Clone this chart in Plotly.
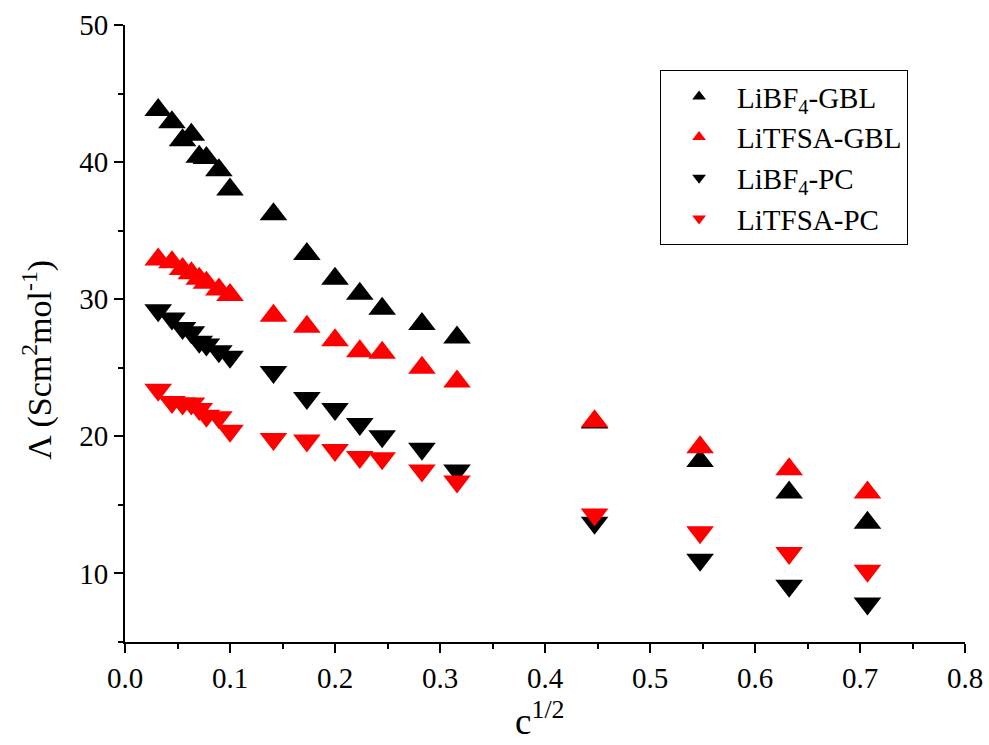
import plotly.graph_objects as go

x = [0.0316, 0.0447, 0.0548, 0.0632, 0.0707, 0.0775, 0.0894, 0.1,
     0.1414, 0.1732, 0.2, 0.2236, 0.2449, 0.2828, 0.3162,
     0.4472, 0.5477, 0.6325, 0.7071]

libf4_gbl = [43.8, 42.9, 41.6, 42.0, 40.4, 40.3, 39.4, 38.0,
             36.2, 33.3, 31.5, 30.4, 29.3, 28.2, 27.2,
             21.0, 18.2, 15.9, 13.7]
litfsa_gbl = [32.9, 32.7, 32.2, 31.9, 31.5, 31.2, 30.7, 30.3,
              28.8, 28.0, 27.0, 26.2, 26.1, 25.0, 24.0,
              21.1, 19.2, 17.6, 15.9]
libf4_pc = [29.2, 28.6, 27.9, 27.6, 26.9, 26.7, 26.2, 25.8,
            24.7, 22.8, 22.0, 20.9, 20.0, 19.1, 17.5,
            13.7, 11.0, 9.1, 7.8]
litfsa_pc = [23.4, 22.5, 22.4, 22.4, 22.0, 21.5, 21.4, 20.4,
             19.8, 19.7, 19.0, 18.5, 18.4, 17.5, 16.7,
             14.3, 13.0, 11.5, 10.2]

names = ["LiBF<sub>4</sub>-GBL", "LiTFSA-GBL", "LiBF<sub>4</sub>-PC", "LiTFSA-PC"]
series = [libf4_gbl, litfsa_gbl, libf4_pc, litfsa_pc]
colors = ["black", "red", "black", "red"]
symbols = ["triangle-up", "triangle-up", "triangle-down", "triangle-down"]

fig = go.Figure()
for n, s, c, sym in zip(names, series, colors, symbols):
    fig.add_trace(go.Scatter(x=x, y=s, mode="markers", name=n,
                             marker=dict(symbol=sym, size=24, color=c,
                                         line=dict(width=0))))

font = "Liberation Serif, Times New Roman, serif"
fig.update_layout(
    width=989, height=745,
    margin=dict(l=125, r=24, t=25, b=103, autoexpand=False),
    plot_bgcolor="white", paper_bgcolor="white",
    font=dict(family=font, color="black", size=30),
    showlegend=True,
    legend=dict(x=0.637, y=0.927, xanchor="left", yanchor="top",
                bordercolor="black", borderwidth=1, bgcolor="white",
                font=dict(size=29, family=font), tracegroupgap=0,
                itemsizing="constant", itemwidth=66),
    xaxis=dict(range=[0, 0.8], dtick=0.1, tick0=0, tickformat=".1f",
               automargin=False,
               showline=True, linecolor="black", linewidth=2,
               ticks="outside", ticklen=9, tickwidth=2, tickcolor="black",
               minor=dict(dtick=0.05, ticklen=5, tickwidth=2, tickcolor="black", ticks="outside"),
               showgrid=False, zeroline=False, mirror=False,
               tickfont=dict(size=29, family=font)),
    yaxis=dict(range=[5, 50], dtick=10, tick0=0,
               automargin=False,
               showline=True, linecolor="black", linewidth=2,
               ticks="outside", ticklen=9, tickwidth=2, tickcolor="black",
               minor=dict(dtick=5, ticklen=5, tickwidth=2, tickcolor="black", ticks="outside"),
               showgrid=False, zeroline=False, mirror=False,
               tickfont=dict(size=29, family=font)),
    annotations=[
        dict(text="Λ (Scm<sup>2</sup>mol<sup>-1</sup>)", xref="paper", yref="paper",
             x=-0.105, y=0.457, xanchor="center", yanchor="middle",
             textangle=-90, showarrow=False,
             font=dict(size=34, family=font, color="black")),
        dict(text="c<sup>1/2</sup>", xref="paper", yref="paper",
             x=0.494, y=-0.124, xanchor="center", yanchor="middle",
             showarrow=False,
             font=dict(size=37, family=font, color="black")),
    ],
)

fig.write_html("out.html")
